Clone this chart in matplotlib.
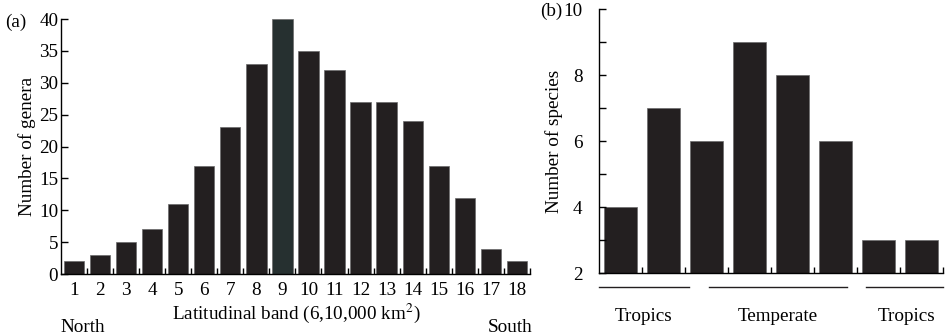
import numpy as np
import matplotlib
matplotlib.use("Agg")
import matplotlib.pyplot as plt
from matplotlib.ticker import FixedLocator

# (a) genera per latitudinal band, north to south
bands = list(range(1, 19))
genera = [2, 3, 5, 7, 11, 17, 23, 33, 40, 35, 32, 27, 27, 24, 17, 12, 4, 2]
highlight_band = 9

# (b) species per zone
species = [4, 7, 6, 9, 8, 6, 3, 3]
zones = ["Tropics", "Temperate", "Tropics"]
zone_spans = [(0.5, 2.58), (3.05, 6.27), (6.71, 8.5)]
zone_centers = [1.53, 4.66, 7.65]

plt.rcParams["font.family"] = ["Liberation Serif", "DejaVu Serif"]
plt.rcParams["mathtext.fontset"] = "stix"
FS = 13.8
BAR = "#231f20"
HL = "#263030"

fig = plt.figure(figsize=(9.48, 3.35), dpi=100)
ax1 = fig.add_axes([0.0643, 0.182, 0.4947, 0.761])
ax2 = fig.add_axes([0.632, 0.185, 0.3627, 0.788])

for ax in (ax1, ax2):
    ax.spines["top"].set_visible(False)
    ax.spines["right"].set_visible(False)
    ax.spines["left"].set_linewidth(1.0)
    ax.spines["bottom"].set_linewidth(1.0)

# panel (a)
colors = [HL if b == highlight_band else BAR for b in bands]
ax1.bar(bands, genera, width=0.78, color=colors, edgecolor="#6a6a6a", linewidth=0.5)
ax1.set_xlim(0.5, 18.5)
ax1.set_ylim(0, 40)
ax1.set_xticks(bands)
ax1.set_xticklabels([str(b) for b in bands], fontsize=FS)
ax1.xaxis.set_minor_locator(FixedLocator(np.arange(1.5, 19, 1.0)))
ax1.tick_params(axis="x", which="major", length=0, pad=6)
ax1.tick_params(axis="x", which="minor", direction="in", length=4, width=1)
ax1.set_yticks(range(0, 41, 5))
ax1.tick_params(axis="y", direction="in", length=5, width=1, labelsize=FS, pad=2)
ax1.set_ylabel("Number of genera", fontsize=FS, labelpad=2)
ax1.text(0.501, -0.153, "Latitudinal band (6,10,000 km$^2$)", transform=ax1.transAxes,
         ha="center", va="center", fontsize=FS)
ax1.text(-0.002, -0.21, "North", transform=ax1.transAxes, ha="left", va="center", fontsize=FS)
ax1.text(1.006, -0.21, "South", transform=ax1.transAxes, ha="right", va="center", fontsize=FS)
fig.text(5 / 948, 1 - 22 / 335, "(a)", ha="left", va="center", fontsize=FS)

# panel (b)
xs = np.arange(1, len(species) + 1)
ax2.bar(xs, np.array(species) - 2, bottom=2, width=0.78, color=BAR,
        edgecolor="#6a6a6a", linewidth=0.5)
ax2.set_xlim(0.5, 8.5)
ax2.set_ylim(2, 10)
ax2.set_xticks([])
ax2.xaxis.set_minor_locator(FixedLocator(np.arange(1.5, 9, 1.0)))
ax2.tick_params(axis="x", which="minor", direction="in", length=4, width=1)
ax2.set_yticks(range(2, 11, 2))
ax2.yaxis.set_minor_locator(FixedLocator([3, 5, 7, 9]))
ax2.tick_params(axis="y", which="both", direction="in", length=5, width=1, labelsize=FS, pad=12)
ax2.set_ylabel("Number of species", fontsize=FS, labelpad=0)
tr = ax2.get_xaxis_transform()
for name, (x0, x1), xc in zip(zones, zone_spans, zone_centers):
    ax2.plot([x0, x1], [-0.053, -0.053], color=BAR, lw=1.0, transform=tr, clip_on=False)
    ax2.text(xc, -0.165, name, transform=tr, ha="center", va="center", fontsize=FS)
fig.text(540 / 948, 1 - 11 / 335, "(b)", ha="left", va="center", fontsize=FS)

fig.savefig("out.png", dpi=100)
